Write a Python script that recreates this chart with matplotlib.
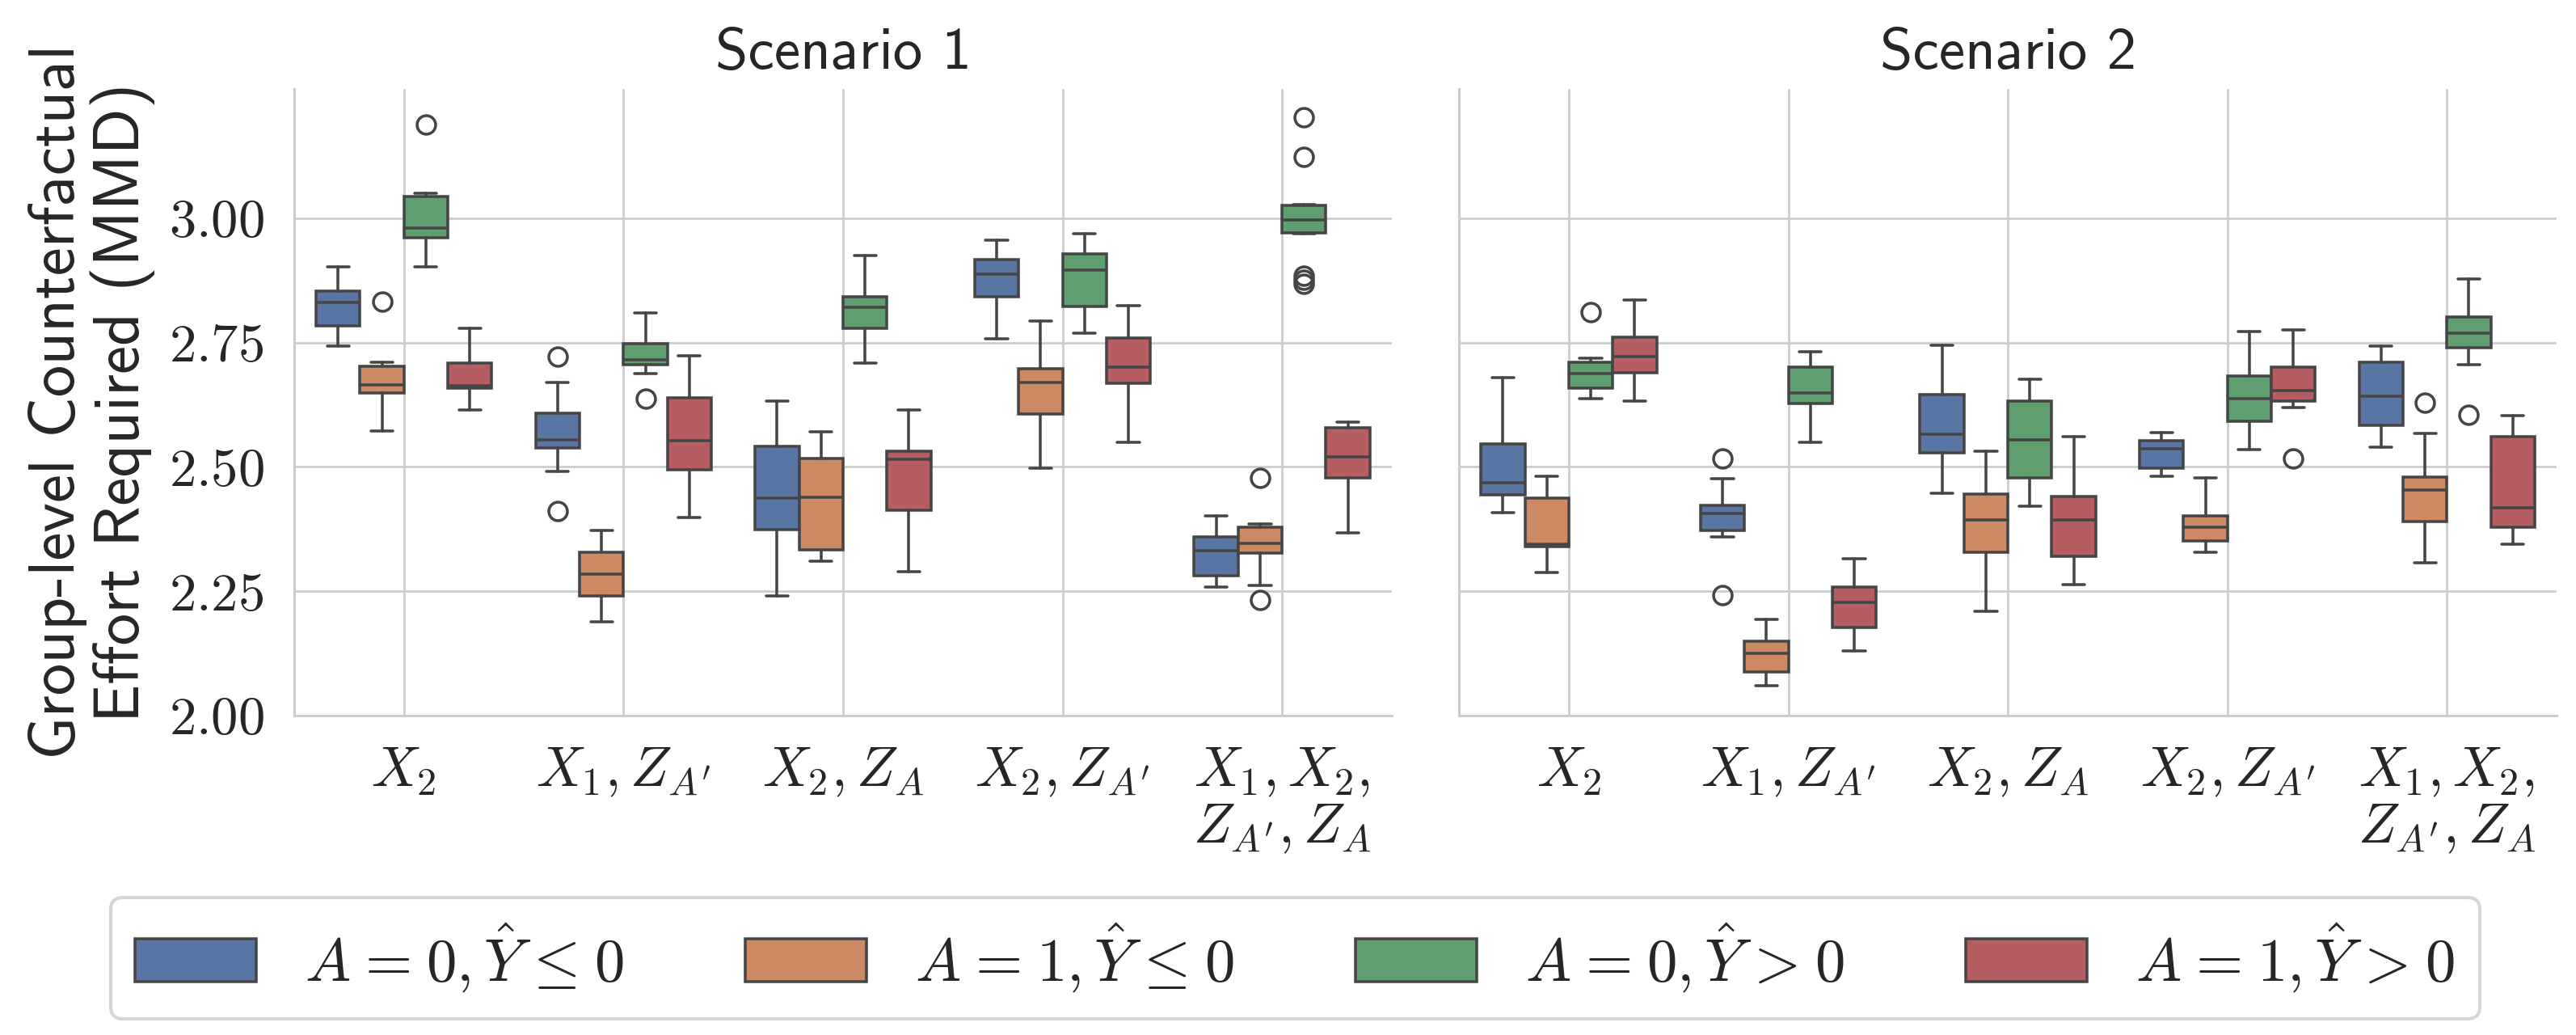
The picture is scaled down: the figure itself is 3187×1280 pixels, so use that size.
import matplotlib
matplotlib.use("Agg")
import matplotlib.pyplot as plt
from matplotlib.patches import Patch
import seaborn as sns

# categories and hue groups
categories = ["$X_2$", "$X_1, Z_{A'}$", "$X_2, Z_A$", "$X_2, Z_{A'}$",
              "$X_1, X_2,$\n$Z_{A'}, Z_A$"]
groups = [r"$A \hspace{0.07}=\hspace{0.07} 0, \hat{Y} \hspace{0.07}\leq\hspace{0.07} 0$",
          r"$A \hspace{0.07}=\hspace{0.07} 1, \hat{Y} \hspace{0.07}\leq\hspace{0.07} 0$",
          r"$A \hspace{0.07}=\hspace{0.07} 0, \hat{Y} \hspace{0.07}>\hspace{0.07} 0$",
          r"$A \hspace{0.07}=\hspace{0.07} 1, \hat{Y} \hspace{0.07}>\hspace{0.07} 0$"]
scenarios = ["Scenario 1", "Scenario 2"]
yticks = [2.00, 2.25, 2.50, 2.75, 3.00]

# box statistics, [group][category]
s1_whislo = [[2.743, 2.491, 2.240, 2.758, 2.259],
             [2.572, 2.188, 2.310, 2.498, 2.261],
             [2.902, 2.687, 2.708, 2.769, 2.969],
             [2.615, 2.398, 2.290, 2.550, 2.368]]
s1_q1 = [[2.783, 2.538, 2.374, 2.842, 2.282],
         [2.649, 2.240, 2.333, 2.607, 2.326],
         [2.960, 2.705, 2.779, 2.823, 2.971],
         [2.659, 2.494, 2.413, 2.668, 2.478]]
s1_med = [[2.830, 2.555, 2.437, 2.888, 2.331],
          [2.665, 2.285, 2.439, 2.669, 2.346],
          [2.980, 2.716, 2.821, 2.896, 2.996],
          [2.663, 2.552, 2.516, 2.700, 2.520]]
s1_q3 = [[2.853, 2.608, 2.541, 2.917, 2.359],
         [2.703, 2.328, 2.517, 2.698, 2.379],
         [3.043, 2.748, 2.842, 2.928, 3.026],
         [2.708, 2.639, 2.531, 2.760, 2.578]]
s1_whishi = [[2.903, 2.670, 2.633, 2.956, 2.402],
             [2.711, 2.373, 2.570, 2.794, 2.386],
             [3.051, 2.809, 2.925, 2.969, 3.028],
             [2.779, 2.724, 2.614, 2.825, 2.590]]
s1_fliers = [[[], [2.722, 2.412], [], [], []],
             [[2.833], [], [], [], [2.478, 2.232]],
             [[3.188], [2.637], [], [], [3.203, 3.123, 2.885, 2.877, 2.868]],
             [[], [], [], [], []]]

s2_whislo = [[2.408, 2.359, 2.447, 2.481, 2.540],
             [2.288, 2.060, 2.210, 2.328, 2.308],
             [2.638, 2.550, 2.421, 2.535, 2.706],
             [2.633, 2.130, 2.263, 2.620, 2.344]]
s2_q1 = [[2.444, 2.373, 2.528, 2.498, 2.584],
         [2.339, 2.088, 2.329, 2.351, 2.390],
         [2.659, 2.628, 2.478, 2.591, 2.740],
         [2.690, 2.178, 2.320, 2.633, 2.379]]
s2_med = [[2.469, 2.407, 2.566, 2.537, 2.642],
          [2.344, 2.125, 2.394, 2.378, 2.453],
          [2.688, 2.648, 2.555, 2.638, 2.769],
          [2.722, 2.228, 2.394, 2.653, 2.418]]
s2_q3 = [[2.547, 2.423, 2.645, 2.553, 2.711],
         [2.438, 2.150, 2.445, 2.402, 2.480],
         [2.711, 2.701, 2.633, 2.682, 2.801],
         [2.761, 2.258, 2.441, 2.701, 2.561]]
s2_whishi = [[2.680, 2.476, 2.744, 2.569, 2.743],
             [2.481, 2.193, 2.532, 2.478, 2.567],
             [2.718, 2.732, 2.676, 2.773, 2.878],
             [2.836, 2.316, 2.561, 2.776, 2.603]]
s2_fliers = [[[], [2.517, 2.243], [], [], []],
             [[], [], [], [], [2.629]],
             [[2.811], [], [], [], [2.604]],
             [[], [], [], [2.517], []]]

stats_by_scenario = [
    (s1_whislo, s1_q1, s1_med, s1_q3, s1_whishi, s1_fliers),
    (s2_whislo, s2_q1, s2_med, s2_q3, s2_whishi, s2_fliers),
]

sns.set_style("whitegrid")
plt.rcParams["font.family"] = ["cmss10", "DejaVu Sans"]
plt.rcParams["mathtext.fontset"] = "cm"
plt.rcParams["axes.unicode_minus"] = False

colors = sns.color_palette("deep", 4, desat=0.75)
line_c = "#454545"
lw = 0.85

fig = plt.figure(figsize=(3187 / 300, 1280 / 300), dpi=300)
ax1 = fig.add_axes([0.1142, 0.3086, 0.4261, 0.6055])
ax2 = fig.add_axes([0.5664, 0.3086, 0.4261, 0.6055], sharey=ax1)
offsets = [-0.3, -0.1, 0.1, 0.3]

for ax, title, st in zip([ax1, ax2], scenarios, stats_by_scenario):
    whislo, q1, med, q3, whishi, fliers = st
    for g in range(len(groups)):
        bstats = []
        for c in range(len(categories)):
            bstats.append(dict(whislo=whislo[g][c], q1=q1[g][c], med=med[g][c],
                               q3=q3[g][c], whishi=whishi[g][c],
                               fliers=fliers[g][c]))
        pos = [c + offsets[g] for c in range(len(categories))]
        ax.bxp(bstats, positions=pos, widths=0.2, patch_artist=True,
               manage_ticks=False,
               boxprops=dict(facecolor=colors[g], edgecolor=line_c, linewidth=lw),
               medianprops=dict(color=line_c, linewidth=lw),
               whiskerprops=dict(color=line_c, linewidth=lw),
               capprops=dict(color=line_c, linewidth=lw),
               flierprops=dict(marker="o", markerfacecolor="none",
                               markeredgecolor=line_c, markersize=5.5,
                               markeredgewidth=lw))
    ax.set_xlim(-0.5, len(categories) - 0.5)
    ax.set_xticks(range(len(categories)))
    ax.set_xticklabels(categories, fontsize=16.5, linespacing=1.1)
    ax.set_title(title, fontsize=17.5, pad=6)
    ax.set_axisbelow(True)
    ax.grid(True, color="#cccccc", linewidth=0.65)
    for side in ["top", "right"]:
        ax.spines[side].set_visible(False)
    for side in ["left", "bottom"]:
        ax.spines[side].set_color("#cccccc")
        ax.spines[side].set_linewidth(0.75)
    ax.tick_params(length=0, pad=9)

ax1.set_ylim(2.0, 3.26)
ax1.set_yticks(yticks)
ax1.set_yticklabels([f"${v:.2f}$" for v in yticks], fontsize=16)
ax1.set_ylabel("Group-level Counterfactual\nEffort Required (MMD)",
               fontsize=19, linespacing=1.05)
plt.setp(ax2.get_yticklabels(), visible=False)

handles = [Patch(facecolor=colors[g], edgecolor=line_c, linewidth=lw)
           for g in range(len(groups))]
fig.legend(handles, groups, loc="center", bbox_to_anchor=(0.5027, 0.074),
           ncol=4, fontsize=18, frameon=True, edgecolor="#cccccc")

fig.savefig("out.png", dpi=300)
